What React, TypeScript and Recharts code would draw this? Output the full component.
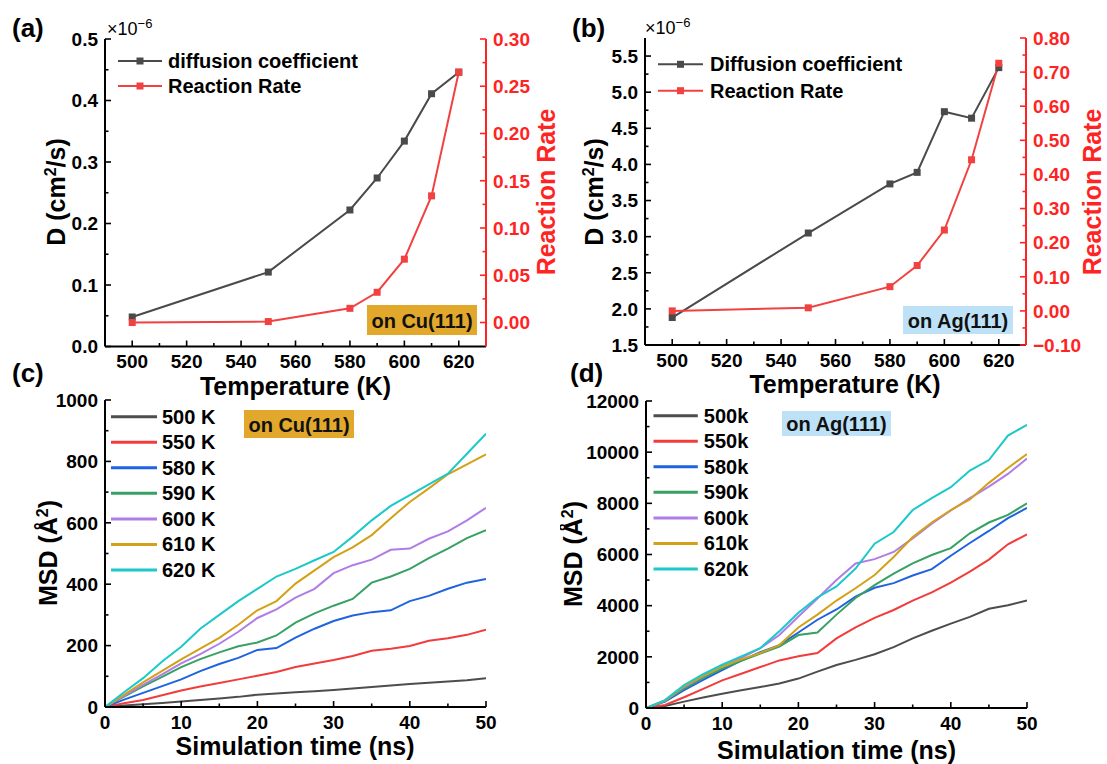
import React from 'react';
import { LineChart, Line, XAxis, YAxis, Legend, Label } from 'recharts';

const FONT = '"Liberation Sans", Arial, Helvetica, sans-serif';

// (a)/(b): diffusion coefficient (x1e-6 cm2/s) and reaction rate vs temperature
const temps = [500, 550, 580, 590, 600, 610, 620];
const diffCu = [0.048, 0.121, 0.222, 0.274, 0.334, 0.411, 0.446];
const rateCu = [0.0, 0.001, 0.015, 0.032, 0.067, 0.134, 0.265];
const diffAg = [1.88, 3.05, 3.73, 3.89, 4.73, 4.64, 5.34];
const rateAg = [0.0, 0.009, 0.071, 0.133, 0.237, 0.443, 0.726];

const tempTicks = [500, 510, 520, 530, 540, 550, 560, 570, 580, 590, 600, 610, 620];
const cuDTicks = [0, 0.05, 0.1, 0.15, 0.2, 0.25, 0.3, 0.35, 0.4, 0.45, 0.5];
const cuRateTicks = [0, 0.025, 0.05, 0.075, 0.1, 0.125, 0.15, 0.175, 0.2, 0.225, 0.25, 0.275, 0.3];
const agDTicks = [1.5, 1.75, 2, 2.25, 2.5, 2.75, 3, 3.25, 3.5, 3.75, 4, 4.25, 4.5, 4.75, 5, 5.25, 5.5];
const agRateTicks = [-0.1, -0.05, 0, 0.05, 0.1, 0.15, 0.2, 0.25, 0.3, 0.35, 0.4, 0.45, 0.5, 0.55, 0.6, 0.65, 0.7, 0.75, 0.8];

// (c)/(d): MSD (Å^2) vs simulation time (ns)
const simTime = [0, 2.5, 5, 7.5, 10, 12.5, 15, 17.5, 20, 22.5, 25, 27.5, 30, 32.5, 35, 37.5, 40, 42.5, 45, 47.5, 50];

const cu500 = [0, 5, 9, 13, 18, 23, 28, 33, 40, 44, 48, 51, 55, 60, 65, 70, 75, 79, 83, 87, 94];
const cu550 = [0, 12, 23, 38, 54, 67, 78, 90, 102, 114, 130, 142, 153, 166, 183, 190, 199, 216, 224, 235, 252];
const cu580 = [0, 24, 46, 68, 90, 117, 140, 160, 186, 192, 226, 255, 280, 298, 309, 315, 345, 362, 385, 405, 417];
const cu590 = [0, 34, 67, 98, 130, 156, 178, 198, 210, 233, 275, 305, 330, 352, 405, 425, 450, 485, 516, 550, 576];
const cu600 = [0, 36, 72, 106, 142, 172, 206, 245, 290, 318, 356, 385, 436, 462, 480, 512, 516, 548, 572, 608, 649];
const cu610 = [0, 40, 80, 118, 155, 190, 225, 268, 315, 345, 402, 445, 488, 520, 560, 615, 668, 712, 758, 790, 823];
const cu620 = [0, 48, 94, 148, 196, 255, 300, 345, 385, 425, 450, 478, 505, 555, 608, 655, 690, 725, 760, 825, 890];

const ag500 = [0, 80, 250, 410, 560, 690, 820, 960, 1150, 1420, 1680, 1880, 2100, 2380, 2720, 3020, 3300, 3560, 3880, 4020, 4200];
const ag550 = [0, 120, 420, 750, 1080, 1340, 1600, 1860, 2020, 2150, 2720, 3150, 3520, 3830, 4200, 4520, 4900, 5330, 5800, 6400, 6790];
const ag580 = [0, 250, 700, 1100, 1480, 1850, 2180, 2460, 2950, 3450, 3850, 4350, 4700, 4880, 5180, 5430, 5950, 6450, 6920, 7420, 7820];
const ag590 = [0, 270, 760, 1180, 1540, 1840, 2130, 2400, 2850, 2950, 3650, 4300, 4800, 5250, 5650, 5980, 6250, 6830, 7250, 7550, 8000];
const ag600 = [0, 290, 830, 1250, 1620, 1960, 2340, 2850, 3580, 4280, 5000, 5650, 5820, 6100, 6630, 7200, 7720, 8200, 8650, 9150, 9750];
const ag610 = [0, 300, 860, 1260, 1620, 1900, 2150, 2460, 3150, 3650, 4200, 4680, 5200, 5900, 6680, 7250, 7740, 8150, 8800, 9380, 9930];
const ag620 = [0, 310, 900, 1320, 1690, 2020, 2340, 3000, 3720, 4320, 4750, 5450, 6420, 6880, 7740, 8200, 8630, 9280, 9690, 10650, 11070];

const timeTicks = [0, 5, 10, 15, 20, 25, 30, 35, 40, 45, 50];
const msdCuTicks = [0, 100, 200, 300, 400, 500, 600, 700, 800, 900, 1000];
const msdAgTicks = [0, 1000, 2000, 3000, 4000, 5000, 6000, 7000, 8000, 9000, 10000, 11000, 12000];

const cuNames = ['500 K', '550 K', '580 K', '590 K', '600 K', '610 K', '620 K'];
const agNames = ['500k', '550k', '580k', '590k', '600k', '610k', '620k'];

const traceColors = ['#4d4d4d', '#f23c3c', '#1f63e0', '#37a163', '#b07de6', '#d4a017', '#1cc8c8'];
const GRAY = '#4a4a4a';
const RED = '#f24141';
const AXIS_RED = '#ff2424';

const sweepRows = (d: number[], r: number[]) => temps.map((T, i) => ({ T, D: d[i], R: r[i] }));
const msdRows = (series: number[][]) =>
  simTime.map((t, i) => {
    const row: Record<string, number> = { t };
    series.forEach((s, k) => {
      row['k' + k] = s[i];
    });
    return row;
  });

const bold = (size: number) => ({ fontFamily: FONT, fontWeight: 700, fontSize: size });
const multOf = (step: number) => (v: number) => Math.abs(v / step - Math.round(v / step)) < 1e-6;
const fix = (n: number) => (v: number) => (v < 0 ? '\u2212' + Math.abs(v).toFixed(n) : v.toFixed(n));

// ticks point into the frame, minor ones carry no label
function inwardTick(side: 'left' | 'right' | 'bottom', isMajor: (v: number) => boolean, fmt: (v: number) => string, color = '#000') {
  return (p: any) => {
    const v = Number(p.payload.value);
    const major = isMajor(v);
    const len = major ? 6 : 3.5;
    const { x, y } = p;
    let tick;
    let label = null;
    if (side === 'left') {
      tick = <line x1={x} x2={x + len} y1={y} y2={y} stroke={color} strokeWidth={1.6} />;
      if (major) label = <text x={x - 7} y={y + 6.8} textAnchor="end" fill={color} style={bold(19)}>{fmt(v)}</text>;
    } else if (side === 'right') {
      tick = <line x1={x} x2={x - len} y1={y} y2={y} stroke={color} strokeWidth={1.6} />;
      if (major) label = <text x={x + 7} y={y + 6.8} textAnchor="start" fill={color} style={bold(19)}>{fmt(v)}</text>;
    } else {
      tick = <line x1={x} x2={x} y1={y} y2={y - len} stroke={color} strokeWidth={1.6} />;
      if (major) label = <text x={x} y={y + 21.5} textAnchor="middle" fill={color} style={bold(19)}>{fmt(v)}</text>;
    }
    return (
      <g key={`${side}-${v}`}>
        {tick}
        {label}
      </g>
    );
  };
}

const squareDot = (color: string) => (p: any) => (
  <rect key={`sq-${p.index}`} x={p.cx - 3.5} y={p.cy - 3.5} width={7} height={7} fill={color} />
);

function VTitle({ x, y, color = '#000', children }: any) {
  return (
    <text x={x} y={y} transform={`rotate(-90 ${x} ${y})`} textAnchor="middle" fill={color} style={bold(25)}>
      {children}
    </text>
  );
}

const frame = { stroke: '#000', strokeWidth: 2 };

type LegendSpec = { x0: number; x1: number; tx: number; y0: number; step: number; w: number; h: number; lw: number; marker: boolean };

function legendContent(names: string[], spec: LegendSpec) {
  return (props: any) => {
    const payload: any[] = props.payload || [];
    const items = names.map((n) => payload.find((e) => e.value === n)).filter(Boolean);
    return (
      <svg width={spec.w} height={spec.h} style={{ position: 'absolute', left: 0, top: 0, overflow: 'visible' }}>
        {items.map((e: any, i: number) => {
          const y = spec.y0 + i * spec.step;
          const mid = (spec.x0 + spec.x1) / 2;
          return (
            <g key={e.value}>
              <line x1={spec.x0} x2={spec.x1} y1={y} y2={y} stroke={e.color} strokeWidth={spec.lw} />
              {spec.marker && <rect x={mid - 3.5} y={y - 3.5} width={7} height={7} fill={e.color} />}
              <text x={spec.tx} y={y + 7} style={bold(20)} fill="#000">
                {e.value}
              </text>
            </g>
          );
        })}
      </svg>
    );
  };
}

type SweepProps = {
  left: number; top: number; width: number; height: number; mTop: number;
  yWidth: number; rWidth: number; xHeight: number;
  rows: any[]; names: [string, string];
  dDomain: [number, number]; dTicks: number[]; dStep: number;
  rDomain: [number, number]; rTicks: number[];
  dTitleX: number; rTitleX: number; titleY: number; xTitleX: number; xTitleY: number;
  legend: LegendSpec;
};

function SweepPanel(p: SweepProps) {
  return (
    <div style={{ position: 'absolute', left: p.left, top: p.top }}>
      <LineChart width={p.width} height={p.height} data={p.rows} margin={{ top: p.mTop, right: 0, bottom: 0, left: 0 }}>
        <XAxis
          dataKey="T" type="number" domain={[490, 630]} ticks={tempTicks} interval={0} allowDataOverflow
          height={p.xHeight} tickSize={0} tickMargin={0} tickLine={false} axisLine={frame}
          tick={inwardTick('bottom', multOf(20), (v) => String(v))}
        >
          <Label content={() => <text x={p.xTitleX} y={p.xTitleY} textAnchor="middle" style={bold(25)}>Temperature (K)</text>} />
        </XAxis>
        <XAxis xAxisId="top" orientation="top" type="number" domain={[490, 630]} height={0} tick={false} tickLine={false} axisLine={frame} />
        <YAxis
          yAxisId="d" type="number" domain={p.dDomain} ticks={p.dTicks} interval={0} allowDataOverflow
          width={p.yWidth} tickSize={0} tickMargin={0} tickLine={false} axisLine={frame}
          tick={inwardTick('left', multOf(p.dStep), fix(1))}
        >
          <Label
            content={() => (
              <VTitle x={p.dTitleX} y={p.titleY}>
                D (cm<tspan dy={-9} style={bold(16)}>2</tspan><tspan dy={9}>/s)</tspan>
              </VTitle>
            )}
          />
        </YAxis>
        <YAxis
          yAxisId="r" orientation="right" type="number" domain={p.rDomain} ticks={p.rTicks} interval={0} allowDataOverflow
          width={p.rWidth} tickSize={0} tickMargin={0} tickLine={false} axisLine={{ stroke: AXIS_RED, strokeWidth: 2 }}
          tick={inwardTick('right', multOf(0.05 * (p.rDomain[1] > 0.5 ? 2 : 1)), fix(2), AXIS_RED)}
        >
          <Label content={() => <VTitle x={p.rTitleX} y={p.titleY} color={AXIS_RED}>Reaction Rate</VTitle>} />
        </YAxis>
        <Line yAxisId="d" dataKey="D" name={p.names[0]} type="linear" stroke={GRAY} strokeWidth={2} dot={squareDot(GRAY)} isAnimationActive={false} />
        <Line yAxisId="r" dataKey="R" name={p.names[1]} type="linear" stroke={RED} strokeWidth={2} dot={squareDot(RED)} isAnimationActive={false} />
        <Legend
          layout="horizontal" verticalAlign="middle" align="center"
          wrapperStyle={{ left: 0, top: 0, width: p.width, height: p.height, pointerEvents: 'none' }}
          content={legendContent(p.names, p.legend)}
        />
      </LineChart>
    </div>
  );
}

type MsdProps = {
  left: number; top: number; width: number; height: number; mTop: number; mRight: number;
  yWidth: number; xHeight: number; rows: any[]; names: string[];
  yMax: number; yTicks: number[]; yStep: number;
  titleX: number; titleY: number; xTitleX: number; xTitleY: number;
  legend: LegendSpec;
};

function MsdPanel(p: MsdProps) {
  return (
    <div style={{ position: 'absolute', left: p.left, top: p.top }}>
      <LineChart width={p.width} height={p.height} data={p.rows} margin={{ top: p.mTop, right: p.mRight, bottom: 0, left: 0 }}>
        <XAxis
          dataKey="t" type="number" domain={[0, 50]} ticks={timeTicks} interval={0} allowDataOverflow
          height={p.xHeight} tickSize={0} tickMargin={0} tickLine={false} axisLine={frame}
          tick={inwardTick('bottom', multOf(10), (v) => String(v))}
        >
          <Label content={() => <text x={p.xTitleX} y={p.xTitleY} textAnchor="middle" style={bold(25)}>Simulation time (ns)</text>} />
        </XAxis>
        <XAxis xAxisId="top" orientation="top" type="number" domain={[0, 50]} height={0} tick={false} tickLine={false} axisLine={frame} />
        <YAxis
          type="number" domain={[0, p.yMax]} ticks={p.yTicks} interval={0} allowDataOverflow
          width={p.yWidth} tickSize={0} tickMargin={0} tickLine={false} axisLine={frame}
          tick={inwardTick('left', multOf(p.yStep), (v) => String(v))}
        >
          <Label
            content={() => (
              <VTitle x={p.titleX} y={p.titleY}>
                MSD (Å<tspan dy={-9} style={bold(16)}>2</tspan><tspan dy={9}>)</tspan>
              </VTitle>
            )}
          />
        </YAxis>
        <YAxis yAxisId="edge" orientation="right" type="number" domain={[0, 1]} width={0} tick={false} tickLine={false} axisLine={frame} />
        {p.names.map((n, k) => (
          <Line key={n} dataKey={'k' + k} name={n} type="linear" stroke={traceColors[k]} strokeWidth={2} dot={false} isAnimationActive={false} />
        ))}
        <Legend
          layout="horizontal" verticalAlign="middle" align="center"
          wrapperStyle={{ left: 0, top: 0, width: p.width, height: p.height, pointerEvents: 'none' }}
          content={legendContent(p.names, p.legend)}
        />
      </LineChart>
    </div>
  );
}

function Tag({ x, y, w, h, fill, text }: { x: number; y: number; w: number; h: number; fill: string; text: string }) {
  return (
    <g>
      <rect x={x} y={y} width={w} height={h} fill={fill} />
      <text x={x + w / 2} y={y + h / 2 + 7.5} textAnchor="middle" style={bold(20)} fill="#111">
        {text}
      </text>
    </g>
  );
}

function Mult({ x, y }: { x: number; y: number }) {
  return (
    <text x={x} y={y} style={{ fontFamily: FONT, fontSize: 18 }} fill="#000">
      ×10<tspan dy={-7} style={{ fontFamily: FONT, fontSize: 13 }}>−6</tspan>
    </text>
  );
}

export default function App() {
  return (
    <div style={{ position: 'absolute', left: 0, top: 0, width: 1107, height: 764, background: '#fff', fontFamily: FONT }}>
      <SweepPanel
        left={0} top={0} width={560} height={400} mTop={39} yWidth={105} rWidth={74} xHeight={53.5}
        rows={sweepRows(diffCu, rateCu)} names={['diffusion coefficient', 'Reaction Rate']}
        dDomain={[0, 0.5]} dTicks={cuDTicks} dStep={0.1}
        rDomain={[-0.0254, 0.3]} rTicks={cuRateTicks}
        dTitleX={64.5} rTitleX={555} titleY={192} xTitleX={295.5} xTitleY={395}
        legend={{ x0: 118, x1: 162, tx: 168, y0: 61, step: 25, w: 560, h: 400, lw: 2, marker: true }}
      />
      <SweepPanel
        left={560} top={0} width={547} height={400} mTop={38} yWidth={85} rWidth={81} xHeight={55}
        rows={sweepRows(diffAg, rateAg)} names={['Diffusion coefficient', 'Reaction Rate']}
        dDomain={[1.5, 5.75]} dTicks={agDTicks} dStep={0.5}
        rDomain={[-0.1, 0.8]} rTicks={agRateTicks}
        dTitleX={43} rTitleX={541} titleY={192} xTitleX={285} xTitleY={393}
        legend={{ x0: 98, x1: 143, tx: 150, y0: 64.3, step: 26.4, w: 547, h: 400, lw: 2, marker: true }}
      />
      <MsdPanel
        left={0} top={390} width={560} height={374} mTop={10} mRight={74} yWidth={105} xHeight={57}
        rows={msdRows([cu500, cu550, cu580, cu590, cu600, cu610, cu620])} names={cuNames}
        yMax={1000} yTicks={msdCuTicks} yStep={200}
        titleX={57} titleY={163} xTitleX={295} xTitleY={365}
        legend={{ x0: 111, x1: 157, tx: 162, y0: 26.7, step: 25.55, w: 560, h: 374, lw: 3, marker: false }}
      />
      <MsdPanel
        left={560} top={390} width={547} height={374} mTop={11} mRight={80} yWidth={86} xHeight={56}
        rows={msdRows([ag500, ag550, ag580, ag590, ag600, ag610, ag620])} names={agNames}
        yMax={12000} yTicks={msdAgTicks} yStep={2000}
        titleX={22} titleY={164} xTitleX={276.5} xTitleY={369}
        legend={{ x0: 93.5, x1: 137.8, tx: 143.8, y0: 25.7, step: 25.55, w: 547, h: 374, lw: 3, marker: false }}
      />
      <svg width={1107} height={764} style={{ position: 'absolute', left: 0, top: 0, pointerEvents: 'none' }}>
        <text x={12} y={37} style={bold(26)}>(a)</text>
        <text x={572} y={37} style={bold(26)}>(b)</text>
        <text x={12} y={382} style={bold(26)}>(c)</text>
        <text x={570} y={382} style={bold(26)}>(d)</text>
        <Mult x={107} y={35} />
        <Mult x={645} y={34} />
        <Tag x={367} y={305} w={110} h={30} fill="#e2a82c" text="on Cu(111)" />
        <Tag x={903} y={306} w={110} h={28} fill="#bde2f8" text="on Ag(111)" />
        <Tag x={244} y={410} w={110} h={28} fill="#e2a82c" text="on Cu(111)" />
        <Tag x={782} y={411} w={109} h={25} fill="#bde2f8" text="on Ag(111)" />
      </svg>
    </div>
  );
}
